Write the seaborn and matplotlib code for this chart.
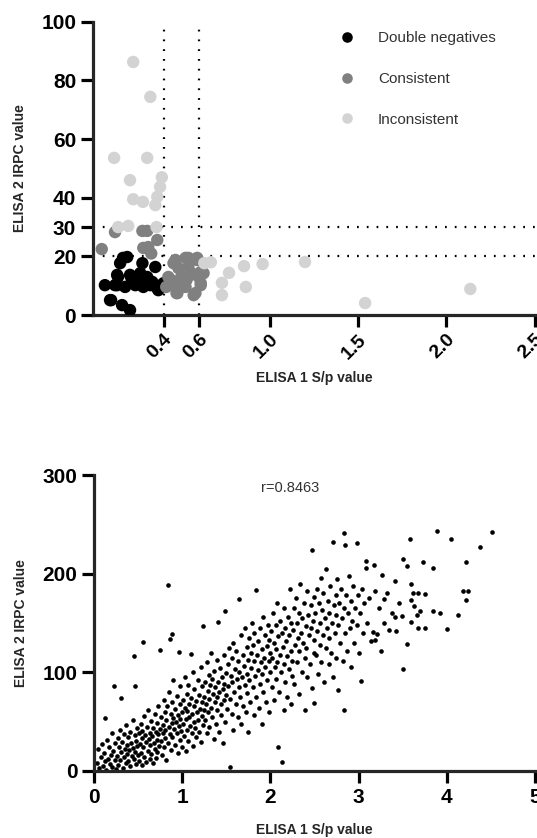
import matplotlib
matplotlib.use("Agg")
import matplotlib.pyplot as plt
import numpy as np
import pandas as pd
import seaborn as sns

# ---- top panel: ELISA 1 vs ELISA 2, three groups ----
dn_x = [0.194, 0.154, 0.28, 0.353, 0.137, 0.21, 0.268, 0.307, 0.068, 0.137, 0.182, 0.24,
        0.285, 0.364, 0.40, 0.336, 0.097, 0.165, 0.21, 0.22, 0.17, 0.30, 0.125, 0.256,
        0.325, 0.387, 0.37, 0.103, 0.142, 0.216]
dn_y = [19.8, 17.7, 17.7, 16.4, 13.7, 13.7, 14.3, 13.0, 10.2, 10.2, 9.6, 10.2,
        9.6, 9.2, 10.9, 11.3, 5.1, 3.4, 1.7, 11.3, 19.5, 12.0, 10.2, 10.9,
        10.2, 10.2, 8.5, 5.1, 13.0, 13.0]

cons_x = [0.05, 0.125, 0.28, 0.307, 0.285, 0.313, 0.364, 0.467, 0.54, 0.587, 0.444, 0.50,
          0.558, 0.598, 0.473, 0.58, 0.524, 0.467, 0.427, 0.54, 0.484, 0.415, 0.626, 0.61,
          0.53, 0.456, 0.524, 0.59, 0.44, 0.478, 0.57, 0.61, 0.61, 0.535, 0.495, 0.33]
cons_y = [22.5, 28.3, 28.7, 28.7, 22.9, 23.2, 25.6, 18.8, 19.5, 18.8, 11.9, 13.0,
          14.3, 13.0, 7.5, 7.5, 9.6, 9.6, 13.0, 16.4, 16.0, 9.6, 14.3, 10.2,
          12.0, 17.7, 19.5, 19.5, 11.3, 7.5, 6.8, 10.9, 14.7, 13.0, 9.6, 21.0]

inc_x = [0.228, 0.325, 0.12, 0.307, 0.21, 0.228, 0.283, 0.353, 0.364, 0.38, 0.39, 0.143,
         0.20, 0.36, 0.63, 0.667, 0.73, 0.73, 0.77, 0.855, 0.865, 0.96, 1.20, 1.54, 2.135]
inc_y = [86.3, 74.4, 53.6, 53.6, 46.0, 39.5, 38.6, 37.5, 40.3, 43.7, 47.0, 30.0,
         30.4, 30.0, 17.7, 18.0, 11.0, 6.8, 14.4, 16.7, 9.6, 17.4, 18.1, 4.1, 8.9]

groups = ["Double negatives", "Consistent", "Inconsistent"]
group_colors = ["#000000", "#808080", "#d3d3d3"]
cut_x = [0.4, 0.6]
cut_y = [20, 30]
top_yticks = [0, 20, 30, 40, 60, 80, 100]
top_xticks = [0.4, 0.6, 1.0, 1.5, 2.0, 2.5]

# ---- bottom panel: all samples ----
all_pts = [
    (0.03, 8), (0.05, 22), (0.06, 3), (0.08, 14), (0.09, 27), (0.10, 5), (0.11, 18), (0.12, 54),
    (0.13, 10), (0.14, 1), (0.15, 31), (0.16, 12), (0.17, 24), (0.18, 7), (0.19, 16), (0.20, 38),
    (0.21, 4), (0.22, 20), (0.23, 86), (0.24, 28), (0.24, 11), (0.25, 2),
    (0.26, 15), (0.27, 33), (0.27, 6), (0.28, 24), (0.29, 42), (0.30, 11), (0.31, 74), (0.31, 19),
    (0.32, 29), (0.33, 3), (0.34, 37), (0.34, 14), (0.35, 22), (0.36, 8), (0.36, 47), (0.37, 26),
    (0.38, 17), (0.39, 34), (0.39, 10), (0.40, 21), (0.41, 40), (0.41, 5), (0.42, 28), (0.43, 15),
    (0.44, 52), (0.44, 23), (0.45, 117), (0.45, 12), (0.46, 36), (0.46, 86), (0.47, 19), (0.48, 30),
    (0.48, 7), (0.49, 44), (0.49, 25), (0.50, 16),
    (0.51, 38), (0.51, 10), (0.52, 27), (0.53, 48), (0.53, 18), (0.54, 33), (0.55, 6), (0.55, 41),
    (0.56, 131), (0.56, 24), (0.57, 56), (0.57, 14), (0.58, 36), (0.59, 29), (0.59, 9), (0.60, 45),
    (0.61, 20), (0.61, 62), (0.62, 32), (0.63, 12), (0.63, 39), (0.64, 26), (0.65, 51), (0.65, 17),
    (0.66, 35), (0.67, 44), (0.67, 8), (0.68, 28), (0.69, 58), (0.69, 22), (0.70, 40), (0.70, 13),
    (0.71, 31), (0.72, 49), (0.72, 19), (0.73, 66), (0.73, 37), (0.74, 25), (0.75, 123), (0.75, 43),
    (0.76, 30), (0.76, 55), (0.77, 16), (0.78, 47), (0.78, 38), (0.79, 72), (0.79, 24), (0.80, 60),
    (0.81, 42), (0.81, 33), (0.82, 52), (0.82, 11), (0.83, 66), (0.84, 189), (0.84, 28), (0.85, 45),
    (0.85, 80), (0.86, 134), (0.86, 37), (0.87, 58), (0.87, 21), (0.88, 139), (0.88, 49), (0.89, 70),
    (0.89, 34), (0.90, 54), (0.90, 92), (0.91, 43), (0.92, 26), (0.92, 63), (0.93, 50), (0.94, 76),
    (0.94, 39), (0.95, 57), (0.95, 18), (0.96, 121), (0.96, 46), (0.97, 68), (0.97, 31), (0.98, 53),
    (0.98, 86), (0.99, 41), (1.00, 60), (1.00, 24),
    (1.01, 48), (1.01, 72), (1.02, 35), (1.03, 64), (1.03, 95), (1.04, 53), (1.04, 20), (1.05, 78),
    (1.05, 42), (1.06, 61), (1.07, 30), (1.07, 87), (1.08, 55), (1.08, 68), (1.09, 46), (1.10, 119),
    (1.10, 74), (1.11, 38), (1.11, 58), (1.12, 100), (1.12, 25), (1.13, 66), (1.14, 50), (1.14, 83),
    (1.15, 44), (1.16, 71), (1.16, 34), (1.17, 60), (1.18, 92), (1.18, 52), (1.19, 77), (1.19, 40),
    (1.20, 63), (1.21, 105), (1.21, 29), (1.22, 70), (1.22, 56), (1.23, 86), (1.24, 147), (1.24, 47),
    (1.25, 75), (1.25, 62),
    (1.26, 90), (1.26, 52), (1.27, 68), (1.28, 110), (1.28, 38), (1.29, 81), (1.29, 60), (1.30, 97),
    (1.31, 73), (1.31, 45), (1.32, 87), (1.33, 64), (1.33, 120), (1.34, 55), (1.34, 93), (1.35, 78),
    (1.36, 32), (1.36, 101), (1.37, 70), (1.37, 85), (1.38, 48), (1.39, 113), (1.39, 75), (1.40, 62),
    (1.41, 151), (1.41, 90), (1.42, 40), (1.42, 80), (1.43, 104), (1.44, 68), (1.44, 57), (1.45, 95),
    (1.46, 83), (1.46, 28), (1.47, 118), (1.47, 72), (1.48, 88), (1.49, 162), (1.49, 50), (1.50, 99),
    (1.50, 77),
    (1.51, 63), (1.52, 108), (1.52, 86), (1.53, 125), (1.54, 4), (1.54, 73), (1.55, 96), (1.56, 58),
    (1.56, 115), (1.57, 90), (1.58, 42), (1.58, 130), (1.59, 80), (1.60, 103), (1.61, 68), (1.61, 122),
    (1.62, 93), (1.63, 55), (1.63, 112), (1.64, 85), (1.65, 174), (1.65, 100), (1.66, 75), (1.67, 138),
    (1.67, 48), (1.68, 95), (1.69, 118), (1.69, 66), (1.70, 106), (1.71, 87), (1.71, 145), (1.72, 60),
    (1.73, 126), (1.73, 98), (1.74, 79), (1.75, 113), (1.75, 40),
    (1.76, 135), (1.76, 92), (1.77, 70), (1.78, 120), (1.78, 104), (1.79, 150), (1.80, 85), (1.80, 128),
    (1.81, 57), (1.82, 112), (1.82, 140), (1.83, 96), (1.84, 184), (1.84, 75), (1.85, 118), (1.86, 132),
    (1.86, 102), (1.87, 64), (1.88, 145), (1.88, 88), (1.89, 110), (1.90, 124), (1.90, 48), (1.91, 98),
    (1.92, 156), (1.92, 80), (1.93, 115), (1.94, 138), (1.94, 105), (1.95, 70), (1.96, 127), (1.96, 92),
    (1.97, 148), (1.98, 112), (1.98, 60), (1.99, 133), (2.00, 100), (2.00, 120),
    (2.01, 142), (2.02, 85), (2.02, 115), (2.03, 160), (2.04, 130), (2.04, 72), (2.05, 105), (2.06, 148),
    (2.06, 124), (2.07, 93), (2.08, 170), (2.08, 110), (2.09, 24), (2.09, 137), (2.10, 80), (2.11, 152),
    (2.11, 118), (2.12, 100), (2.13, 9), (2.13, 140), (2.14, 126), (2.15, 62), (2.15, 165), (2.16, 108),
    (2.17, 145), (2.17, 90), (2.18, 132), (2.19, 117), (2.19, 75), (2.20, 156), (2.21, 138), (2.21, 103),
    (2.22, 185), (2.23, 122), (2.23, 68), (2.24, 150), (2.25, 112), (2.25, 96),
    (2.26, 143), (2.27, 165), (2.27, 88), (2.28, 128), (2.29, 175), (2.30, 110), (2.30, 150), (2.31, 135),
    (2.32, 78), (2.33, 160), (2.33, 122), (2.34, 190), (2.35, 140), (2.36, 100), (2.36, 155), (2.37, 130),
    (2.38, 170), (2.39, 115), (2.39, 62), (2.40, 147), (2.41, 125), (2.42, 182), (2.42, 95), (2.43, 158),
    (2.44, 138), (2.45, 108), (2.46, 168), (2.46, 145), (2.47, 84), (2.47, 224), (2.48, 152), (2.49, 120),
    (2.49, 69), (2.50, 176), (2.50, 133),
    (2.51, 160), (2.52, 118), (2.53, 185), (2.53, 142), (2.54, 98), (2.55, 170), (2.56, 150), (2.56, 128),
    (2.57, 196), (2.58, 110), (2.59, 163), (2.60, 138), (2.60, 180), (2.61, 90), (2.62, 155), (2.63, 125),
    (2.63, 205), (2.64, 145), (2.65, 172), (2.66, 108), (2.67, 160), (2.67, 135), (2.68, 188), (2.69, 120),
    (2.70, 150), (2.71, 232), (2.71, 95), (2.72, 168), (2.73, 140), (2.74, 178), (2.75, 115), (2.75, 158),
    (2.76, 195), (2.77, 82), (2.77, 148), (2.78, 170), (2.79, 130), (2.80, 185), (2.81, 155), (2.82, 112),
    (2.83, 241), (2.83, 62), (2.84, 165), (2.85, 229), (2.85, 140), (2.86, 178), (2.87, 122), (2.88, 160),
    (2.89, 198), (2.90, 145), (2.91, 105), (2.92, 172), (2.93, 152), (2.94, 188), (2.95, 130), (2.96, 165),
    (2.98, 231), (2.98, 148), (2.99, 178), (3.00, 120),
    (3.02, 160), (3.03, 91), (3.04, 185), (3.05, 140), (3.06, 170), (3.08, 206), (3.09, 213), (3.10, 150),
    (3.12, 175), (3.14, 132), (3.16, 141), (3.18, 209), (3.19, 183), (3.19, 133), (3.21, 139), (3.23, 165),
    (3.25, 122), (3.27, 199), (3.29, 174), (3.29, 150), (3.32, 180), (3.35, 143), (3.38, 160), (3.41, 193),
    (3.41, 156), (3.43, 142), (3.46, 170), (3.49, 157), (3.50, 103),
    (3.51, 215), (3.55, 208), (3.55, 129), (3.58, 235), (3.60, 151), (3.60, 173), (3.60, 190), (3.62, 180),
    (3.63, 167), (3.66, 158), (3.68, 145), (3.68, 180), (3.70, 162), (3.73, 212), (3.75, 145), (3.75, 179),
    (3.84, 206), (3.84, 162), (3.89, 243), (3.92, 160), (4.00, 144), (4.05, 235), (4.13, 158), (4.19, 183),
    (4.22, 212), (4.22, 173), (4.24, 183), (4.38, 227), (4.51, 242),
]
r_text = "r=0.8463"

sns.set_style("ticks")
plt.rcParams['font.family'] = ['Liberation Sans', 'DejaVu Sans']

top_df = pd.DataFrame({
    'sp': dn_x + cons_x + inc_x,
    'irpc': dn_y + cons_y + inc_y,
    'group': [groups[0]] * len(dn_x) + [groups[1]] * len(cons_x) + [groups[2]] * len(inc_x),
})
bot_df = pd.DataFrame(all_pts, columns=['sp', 'irpc'])

fig = plt.figure(figsize=(5.37, 8.38), dpi=100)
ax1 = fig.add_axes([0.173, 0.624, 0.823, 0.350])
ax2 = fig.add_axes([0.175, 0.080, 0.821, 0.353])


def style_axes(ax):
    for side in ['top', 'right']:
        ax.spines[side].set_visible(False)
    for side in ['left', 'bottom']:
        ax.spines[side].set_linewidth(2.3)
    ax.tick_params(width=2.3, length=8.5, labelsize=15, colors='black')
    for lab in ax.get_xticklabels() + ax.get_yticklabels():
        lab.set_fontweight('bold')


# top scatter
sns.scatterplot(data=top_df, x='sp', y='irpc', hue='group', hue_order=groups,
                palette=group_colors, s=80, linewidth=0, ax=ax1, zorder=3)
for xv in cut_x:
    ax1.plot([xv, xv], [0, 100], color='black', lw=1.6, ls=(0, (0.8, 3.6)), zorder=2)
for yv in cut_y:
    ax1.plot([0, 2.5], [yv, yv], color='black', lw=1.6, ls=(0, (0.8, 3.6)), zorder=2)
ax1.set_xlim(0, 2.5)
ax1.set_ylim(0, 100)
ax1.set_yticks(top_yticks)
ax1.set_xticks(top_xticks)
ax1.set_xticklabels([f"{v:.1f}" for v in top_xticks], rotation=45, ha='right',
                    rotation_mode='anchor')
style_axes(ax1)
ax1.tick_params(axis='x', labelsize=14, pad=3)
ax1.set_xlabel("ELISA 1 S/p value", fontsize=10, fontweight='bold', labelpad=6)
ax1.set_ylabel("ELISA 2 IRPC value", fontsize=10, fontweight='bold', labelpad=10)
leg = ax1.legend(loc='upper left', bbox_to_anchor=(0.51, 1.015), frameon=False,
                 fontsize=11, labelspacing=1.75, handletextpad=1.0, markerscale=0.85)
for t in leg.get_texts():
    t.set_color('#333333')

# bottom scatter
sns.scatterplot(data=bot_df, x='sp', y='irpc', color='black', s=11, linewidth=0,
                marker='o', ax=ax2)
ax2.set_xlim(0, 5)
ax2.set_ylim(0, 300)
ax2.set_xticks([0, 1, 2, 3, 4, 5])
ax2.set_yticks([0, 100, 200, 300])
style_axes(ax2)
ax2.set_xlabel("ELISA 1 S/p value", fontsize=10, fontweight='bold', labelpad=12)
ax2.set_ylabel("ELISA 2 IRPC value", fontsize=10, fontweight='bold', labelpad=10)
ax2.text(2.23, 287, r_text, fontsize=10.5, color='#333333', ha='center', va='center')

fig.savefig("out.png", dpi=100)
